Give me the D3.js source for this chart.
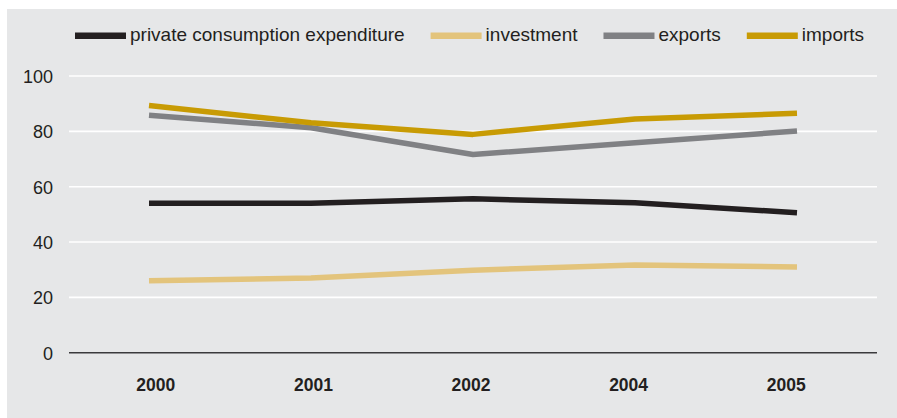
<!DOCTYPE html>
<html>
<head>
<meta charset="utf-8">
<script src="https://cdn.jsdelivr.net/npm/d3@7/dist/d3.min.js"></script>
<style>
  html, body { margin: 0; padding: 0; background: #ffffff; }
  svg { display: block; font-family: "Liberation Sans", Arial, Helvetica, sans-serif; }
</style>
</head>
<body>
<svg id="chart" width="897" height="418"></svg>
<script>
// Years shown on the category axis
const years = ["2000", "2001", "2002", "2004", "2005"];

// Series values (share of GDP, %)
const privateConsumption = [54.0, 54.0, 55.6, 54.2, 50.6];
const investment = [26.0, 27.0, 29.8, 31.7, 31.0];
const exportsShare = [85.8, 81.3, 71.6, 75.9, 80.1];
const importsShare = [89.3, 83.1, 78.9, 84.5, 86.5];

// Value axis ticks
const yTicks = [0, 20, 40, 60, 80, 100];

const seriesNames = ["private consumption expenditure", "investment", "exports", "imports"];
const seriesColors = ["#231f20", "#e3c47c", "#808184", "#c89b04"];
const seriesValues = [privateConsumption, investment, exportsShare, importsShare];

const series = seriesNames.map((name, i) => ({
  name, color: seriesColors[i],
  values: years.map((y, j) => ({ year: y, value: seriesValues[i][j] }))
}));

const svg = d3.select("#chart");

// panel background
svg.append("rect")
  .attr("x", 7).attr("y", 9)
  .attr("width", 890).attr("height", 409)
  .attr("fill", "#e6e7e8");

const plot = { left: 69, right: 877, top: 76, bottom: 352.7 };

const y = d3.scaleLinear().domain([0, 100]).range([plot.bottom, plot.top]);
// line vertices
const xPoint = d3.scalePoint().domain(years).range([149, 797]);
// category labels
const xLabel = d3.scaleBand().domain(years).range([77, 865]);

// horizontal gridlines
svg.append("g")
  .selectAll("line")
  .data(yTicks.filter(t => t > 0))
  .join("line")
  .attr("x1", plot.left).attr("x2", plot.right)
  .attr("y1", d => y(d)).attr("y2", d => y(d))
  .attr("stroke", "#ffffff").attr("stroke-width", 1.6);

// value axis labels
const yAxis = d3.axisLeft(y).tickValues(yTicks).tickSize(0).tickPadding(0).tickFormat(d3.format("d"));
const gy = svg.append("g").attr("transform", `translate(${53},0)`).call(yAxis);
gy.select(".domain").remove();
gy.selectAll("text")
  .attr("fill", "#231f20")
  .attr("font-size", "18px")
  .attr("font-family", "'Liberation Sans', Arial, sans-serif")
  .attr("dy", "0.36em");

// baseline at zero
svg.append("line")
  .attr("x1", plot.left).attr("x2", plot.right)
  .attr("y1", y(0)).attr("y2", y(0))
  .attr("stroke", "#3a3a3c").attr("stroke-width", 1.6);

// category labels
const xAxis = d3.axisBottom(xLabel).tickSize(0).tickPadding(0);
const gx = svg.append("g").attr("transform", `translate(0,${378})`).call(xAxis);
gx.select(".domain").remove();
gx.selectAll("text")
  .attr("fill", "#231f20")
  .attr("font-size", "17.5px")
  .attr("font-weight", "bold")
  .attr("font-family", "'Liberation Sans', Arial, sans-serif")
  .attr("dy", "0.72em");

// lines
const line = d3.line().x(d => xPoint(d.year)).y(d => y(d.value));
svg.append("g")
  .selectAll("path")
  .data(series)
  .join("path")
  .attr("d", d => line(d.values))
  .attr("fill", "none")
  .attr("stroke", d => d.color)
  .attr("stroke-width", 5.5)
  .attr("stroke-linejoin", "round");

// legend
const legend = svg.append("g");
let lx = 75;
series.forEach(s => {
  const g = legend.append("g");
  g.append("rect")
    .attr("x", lx).attr("y", 32.5)
    .attr("width", 51).attr("height", 6.5)
    .attr("fill", s.color);
  const t = g.append("text")
    .attr("x", lx + 55).attr("y", 41)
    .attr("fill", "#231f20")
    .attr("font-size", "19px")
    .text(s.name);
  lx += 55 + t.node().getComputedTextLength() + 26;
});
</script>
</body>
</html>
